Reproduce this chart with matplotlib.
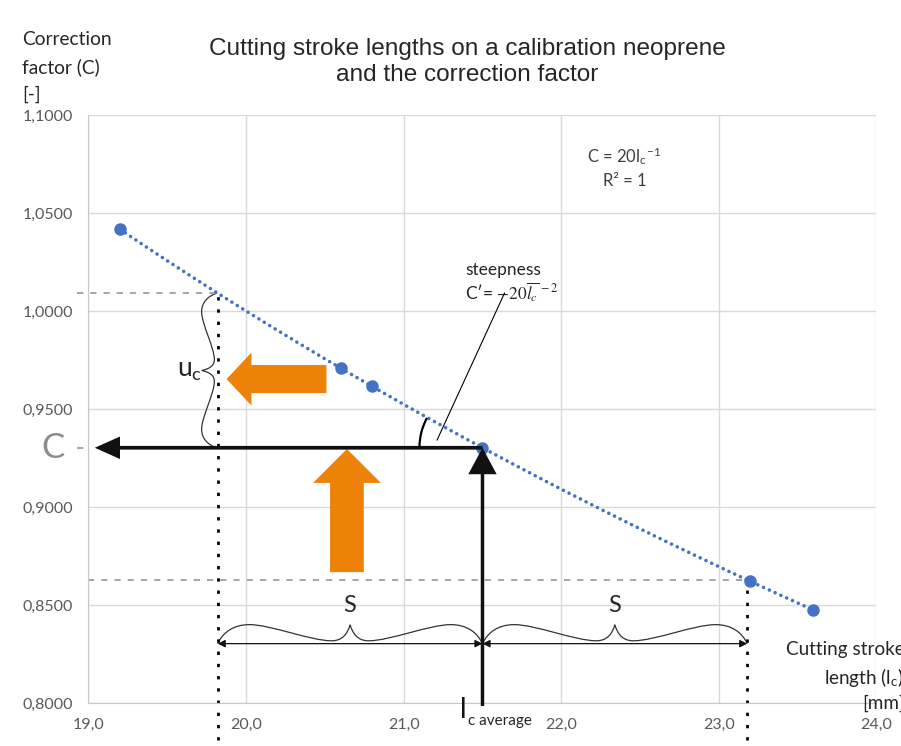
import numpy as np
import matplotlib.pyplot as plt
from matplotlib.path import Path
from matplotlib.patches import PathPatch, FancyArrow, Arc
from matplotlib.ticker import FuncFormatter, MultipleLocator

plt.rcParams['font.family'] = ['Lato', 'DejaVu Sans']
plt.rcParams['mathtext.fontset'] = 'stix'

# measured stroke lengths [mm] and their correction factors
stroke_len = [19.2, 20.6, 20.8, 21.5, 23.2, 23.6]
corr_factor = [1.0417, 0.9709, 0.9615, 0.9302, 0.8621, 0.8475]

fit_coef = 20.0      # C = 20 / l_c
lc_avg = 21.5        # average stroke length
spread = 1.68        # S

c_avg = fit_coef / lc_avg
lc_lo, lc_hi = lc_avg - spread, lc_avg + spread
c_at_lo, c_at_hi = fit_coef / lc_lo, fit_coef / lc_hi

BLUE = '#4472C4'
ORANGE = '#EE8208'
GREY_TXT = '#595959'

# half of a curly brace in unit coords (u along the brace, v towards the tip)
HALF_BRACE = [(0, 0), (0.02, 0.6), (0.06, 1.0), (0.12, 1.0),
              (0.20, 1.0), (0.35, 0.15), (0.43, 0.15),
              (0.47, 0.15), (0.49, 0.5), (0.50, 1.0)]


def brace_points():
    pts = list(HALF_BRACE)
    pts += [(1 - u, v) for u, v in reversed(HALF_BRACE[:-1])]
    codes = [Path.MOVETO] + [Path.CURVE4] * (len(pts) - 1)
    return np.array(pts, dtype=float), codes


def hbrace(ax, x0, x1, y, h):
    pts, codes = brace_points()
    xy = np.column_stack([x0 + pts[:, 0] * (x1 - x0), y + pts[:, 1] * h])
    ax.add_patch(PathPatch(Path(xy, codes), fc='none', ec='#333333',
                           lw=0.9, clip_on=False))


def vbrace(ax, x, y0, y1, depth):
    pts, codes = brace_points()
    xy = np.column_stack([x - pts[:, 1] * depth, y0 + pts[:, 0] * (y1 - y0)])
    ax.add_patch(PathPatch(Path(xy, codes), fc='none', ec='#333333',
                           lw=0.9, clip_on=False))


fig = plt.figure(figsize=(9.01, 7.46), dpi=100)
ax = fig.add_axes([0.0982, 0.0576, 0.8746, 0.7882])

ax.set_xlim(19.0, 24.0)
ax.set_ylim(0.80, 1.10)
ax.xaxis.set_major_locator(MultipleLocator(1.0))
ax.yaxis.set_major_locator(MultipleLocator(0.05))
ax.xaxis.set_major_formatter(FuncFormatter(lambda v, p: f'{v:.1f}'.replace('.', ',')))
ax.yaxis.set_major_formatter(FuncFormatter(lambda v, p: f'{v:.4f}'.replace('.', ',')))
ax.tick_params(length=0, labelsize=11.5, colors=GREY_TXT)
ax.tick_params(axis='y', pad=11)
ax.tick_params(axis='x', pad=11)
ax.grid(True, color='#d9d9d9', lw=1)
ax.set_axisbelow(True)
for side in ('top', 'right'):
    ax.spines[side].set_visible(False)
for side in ('left', 'bottom'):
    ax.spines[side].set_color('#c8c8c8')

# trend line and measured points
xs = np.linspace(min(stroke_len), max(stroke_len), 200)
ax.plot(xs, fit_coef / xs, color=BLUE, lw=2.6, ls=(0, (0.01, 1.75)),
        dash_capstyle='round', zorder=3)
ax.plot(stroke_len, corr_factor, 'o', color=BLUE, ms=8, zorder=4)

# helper lines
dash = dict(color='#a6a6a6', lw=1.4, ls=(0, (3.2, 3.6)), clip_on=False,
            zorder=2)
ax.plot([18.93, lc_lo], [c_at_lo, c_at_lo], **dash)
ax.plot([18.93, 19.0], [c_avg, c_avg], **dash)
ax.plot([19.0, lc_hi], [c_at_hi, c_at_hi], **dash)
for xv, ytop in ((lc_lo, c_at_lo), (lc_hi, c_at_hi)):
    ax.plot([xv, xv], [0.781, ytop], color='black', lw=2,
            ls=(0, (1.2, 3.2)), clip_on=False, zorder=2)

# black arrows to the curve and to the axis
ax.add_patch(FancyArrow(lc_avg, c_avg, 19.04 - lc_avg, 0, width=0.0019,
                        head_width=0.0115, head_length=0.16,
                        length_includes_head=True, color='#111111', lw=0,
                        zorder=5))
ax.add_patch(FancyArrow(lc_avg, 0.7985, 0, c_avg - 0.7985, width=0.022,
                        head_width=0.18, head_length=0.0135,
                        length_includes_head=True, color='#111111', lw=0,
                        clip_on=False, zorder=5))

# orange block arrows
ax.add_patch(FancyArrow(20.51, 0.9653, -0.634, 0, width=0.0143,
                        head_width=0.027, head_length=0.158,
                        length_includes_head=True, color=ORANGE, lw=0,
                        zorder=4))
ax.add_patch(FancyArrow(20.64, 0.8668, 0, 0.0628, width=0.214,
                        head_width=0.43, head_length=0.0173,
                        length_includes_head=True, color=ORANGE, lw=0,
                        zorder=4))

# angle between the C line and the tangent at the average
slope = -fit_coef / lc_avg ** 2
tangent_deg = np.degrees(np.arctan2(-slope, -1.0))
ax.add_patch(Arc((lc_avg, c_avg), 0.80, 0.0643, theta1=tangent_deg,
                 theta2=180, color='black', lw=1.6, zorder=5))
ax.plot([21.212, 21.640], [0.9342, 1.0092], color='black', lw=0.8, zorder=5)
ax.text(21.389, 1.0209, 'steepness', fontsize=12.5, color='#262626',
        ha='left', va='center')
ax.text(21.389, 1.0095, "C\u2032= $-20\\overline{l_c}^{\\,-2}$", fontsize=12.5,
        color='#262626', ha='left', va='center')

# u_c brace
vbrace(ax, 19.813, c_at_lo, c_avg, 0.095)
ax.text(19.72, (c_at_lo + c_avg) / 2, r'$\mathregular{u_c}$', fontsize=19,
        color='#262626', ha='right', va='center')

# S braces with dimension arrows
y_dim = 0.8303
for a, b in ((lc_lo, lc_avg), (lc_avg, lc_hi)):
    hbrace(ax, a, b, y_dim, 0.0097)
    ax.annotate('', xy=(a, y_dim), xytext=(b, y_dim),
                arrowprops=dict(arrowstyle='<|-|>', color='#111111', lw=0.9,
                                mutation_scale=11, shrinkA=0, shrinkB=0))
    ax.text((a + b) / 2, 0.850, 'S', fontsize=17, color='#262626',
            ha='center', va='center')

# labels at the axes
ax.text(18.775, c_avg, 'C', fontsize=25, color='#8c8c8c', ha='center',
        va='center', clip_on=False)
ax.annotate('l', xy=(lc_avg, 0.8), xytext=(-16.5, -10.5),
            textcoords='offset points', fontsize=20, color='#111111',
            ha='left', va='baseline', annotation_clip=False)
ax.annotate('c average', xy=(lc_avg, 0.8), xytext=(-10.5, -16),
            textcoords='offset points', fontsize=11, color='#262626',
            ha='left', va='baseline', annotation_clip=False)
ax.text(22.40, 1.0735, 'C = 20l$_\\mathregular{c}$$^{\\mathregular{-1}}$\nR² = 1',
        fontsize=12, color='#404040', ha='center', va='center',
        linespacing=1.5)

fig.text(0.519, 1 - 62 / 746,
         'Cutting stroke lengths on a calibration neoprene\nand the correction factor',
         fontsize=17.6, family='Liberation Sans', color='#262626',
         ha='center', va='center', linespacing=1.22)
fig.text(22 / 901, 1 - 31 / 746, 'Correction\nfactor (C)\n[-]', fontsize=13.8,
         color='#262626', ha='left', va='top', linespacing=1.68)
fig.text(1.004, 1 - 641 / 746, 'Cutting stroke\nlength (l$_\\mathregular{c}$)\n[mm]',
         fontsize=13.6, color='#262626', ha='right', va='top', linespacing=1.42)

fig.savefig('out.png', dpi=100, facecolor='white')
